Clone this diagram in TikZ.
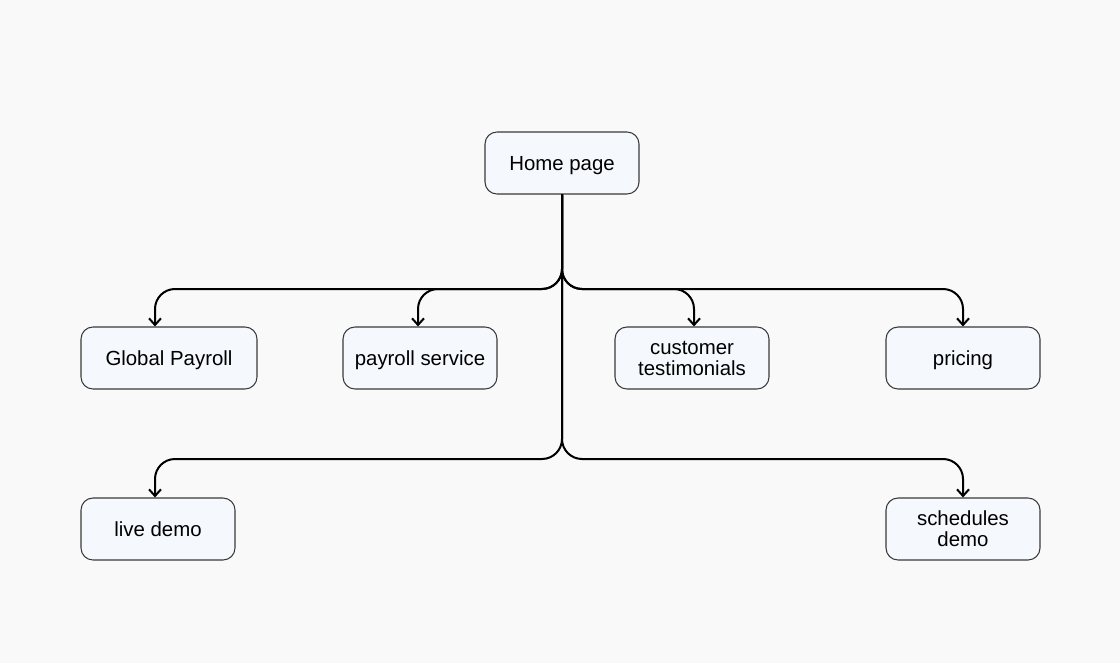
\documentclass[tikz,border=0pt]{standalone}
\usepackage{fontspec}
\setmainfont{Liberation Sans}
\usetikzlibrary{arrows.meta}

\definecolor{bgcol}{HTML}{F9F9F9}
\definecolor{boxfill}{HTML}{F5F8FC}
\definecolor{boxline}{HTML}{3A3A3A}

\begin{document}
\begin{tikzpicture}[x=0.75pt,y=-0.75pt,
  page/.style={draw=boxline, line width=0.8pt, fill=boxfill, rounded corners=9pt,
    minimum width=115.5pt, minimum height=46.5pt, inner sep=2pt, align=center,
    text depth=0pt, font=\fontsize{15.3}{15.8}\selectfont},
  link/.style={line width=1.5pt, rounded corners=15pt,
    -{Straight Barb[length=5pt,width=9pt,line width=1.5pt]}}]

% Background
\fill[bgcol] (0,0) rectangle (1120,663);
\useasboundingbox (0,0) rectangle (1120,663);

% Pages
\node[page] (home) at (562,163) {Home page};
\node[page, minimum width=132pt] (global) at (169,358) {Global Payroll};
\node[page] (service) at (420,358) {payroll service};
\node[page] (testimonials) at (692,358) {customer\\testimonials};
\node[page] (pricing) at (963,358) {pricing};
\node[page] (live) at (158,529) {live demo};
\node[page] (schedules) at (963,529) {schedules\\demo};

% Branch rows
\coordinate (row1) at (562,289);
\coordinate (row2) at (562,459);

% Links
\draw[link] (home.south) -- (row1) -| ([xshift=-10.5pt]global.north);
\draw[link] (home.south) -- (row1) -| ([xshift=-1.5pt]service.north);
\draw[link] (home.south) -- (row1) -| ([xshift=1.5pt]testimonials.north);
\draw[link] (home.south) -- (row1) -| (pricing.north);
\draw[link] (home.south) -- (row2) -| ([xshift=-2.25pt]live.north);
\draw[link] (home.south) -- (row2) -| (schedules.north);

\end{tikzpicture}
\end{document}
